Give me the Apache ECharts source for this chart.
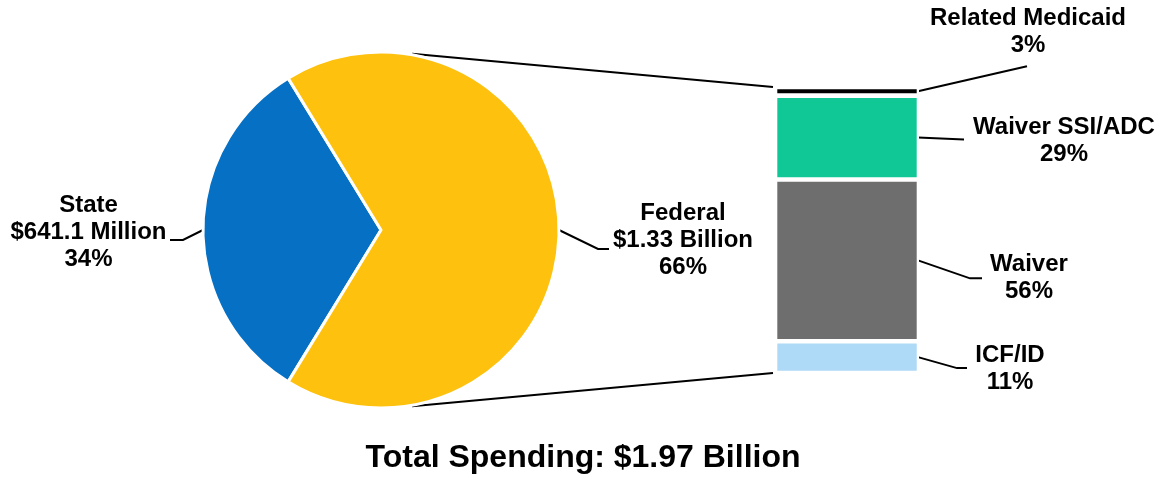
<!DOCTYPE html>
<html><head><meta charset="utf-8">
<script src="https://cdn.jsdelivr.net/npm/echarts@6/dist/echarts.min.js"></script>
<style>html,body{margin:0;padding:0;background:#fff}#c{width:1166px;height:479px}</style>
</head><body><div id="c"></div>
<script>
// ---------- data ----------
const pieNames = ['State', 'Federal'];
const pieValues = [641.1, 1330];              // $ millions
const pieAmounts = ['$641.1 Million', '$1.33 Billion'];
const piePercents = ['34%', '66%'];
const barCategory = ['Medicaid'];
const barNames = ['ICF/ID', 'Waiver', 'Waiver SSI/ADC', 'Related Medicaid'];
const barValues = [11, 56, 29, 3];            // percent of federal share
const barPercents = ['11%', '56%', '29%', '3%'];
const totalLabel = 'Total Spending: $1.97 Billion';

// ---------- style ----------
const FONT = '"Liberation Sans", Arial, Helvetica, sans-serif';
const pieColors = ['#0570C4', '#FDC10E'];
const barColors = ['#AED9F7', '#6E6E6E', '#10C896', '#000000'];
const PIE_C = [381, 230], PIE_R = 178;
const GRID = {left: 775, top: 87, width: 144, height: 286};
const CONNECT_ANGLE = 80;   // degrees, where the connector leaves the pie
const pieLabelOffsets = [
  {label: [-114.5, 2.5], line: [[-20, 10], [-33, 10]]},
  {label: [124, 10.5], line: [[39, 19], [50, 19]]}
];
const barLabelOffsets = [
  {label: [92, 12], line: [[39, 11], [49, 11]]},
  {label: [111, 18], line: [[52, 18], [64, 18]]},
  {label: [146, 3], line: [[46, 2]]},
  {label: [110, -59], line: [[109, -25]]}
];
const labelText = {fontFamily: FONT, fontSize: 24, fontWeight: 'bold', color: '#000', lineHeight: 27};

const pieTotal = pieValues.reduce((a, b) => a + b, 0);
const barTotal = barValues.reduce((a, b) => a + b, 0);
const startAngle = 180 + 180 * pieValues[0] / pieTotal;
function pieMidAngle(i) {
  let cum = 0;
  for (let k = 0; k < i; k++) cum += pieValues[k];
  return startAngle - (cum + pieValues[i] / 2) * 360 / pieTotal;
}
function pieEdge(angleDeg, r) {
  const a = angleDeg * Math.PI / 180;
  return [PIE_C[0] + r * Math.cos(a), PIE_C[1] - r * Math.sin(a)];
}

const chart = echarts.init(document.getElementById('c'), null, {renderer: 'canvas'});

const series = [{
  type: 'pie',
  center: PIE_C,
  radius: PIE_R,
  startAngle: startAngle,
  clockwise: true,
  avoidLabelOverlap: false,
  silent: true,
  data: pieNames.map((n, i) => ({name: n, value: pieValues[i], itemStyle: {color: pieColors[i]}})),
  itemStyle: {borderColor: '#fff', borderWidth: 3},
  label: Object.assign({
    show: true, position: 'outside', align: 'center',
    formatter: p => pieNames[p.dataIndex] + '\n' + pieAmounts[p.dataIndex] + '\n' + piePercents[p.dataIndex]
  }, labelText),
  labelLine: {show: true, lineStyle: {color: '#000', width: 2}},
  labelLayout: function (p) {
    const i = p.dataIndex;
    const a = pieEdge(pieMidAngle(i), PIE_R);
    const o = pieLabelOffsets[i];
    return {
      x: a[0] + o.label[0], y: a[1] + o.label[1], align: 'center', verticalAlign: 'middle',
      labelLinePoints: [a].concat(o.line.map(q => [a[0] + q[0], a[1] + q[1]]))
    };
  }
}];

barNames.forEach((n, i) => {
  series.push({
    type: 'bar', name: n, stack: 'fed', barWidth: GRID.width,
    data: [barValues[i]], silent: true,
    itemStyle: {color: barColors[i], borderColor: '#fff', borderWidth: 2.3},
    label: Object.assign({
      show: true, position: 'right', align: 'center',
      formatter: () => barNames[i] + '\n' + barPercents[i]
    }, labelText),
    labelLayout: function (p) {
      const r = p.rect;
      const ax = r.x + r.width - 1, ay = r.y + r.height / 2;
      const o = barLabelOffsets[i];
      return {x: ax + o.label[0], y: ay + o.label[1], align: 'center', verticalAlign: 'middle'};
    }
  });
});

chart.setOption({
  animation: false,
  backgroundColor: '#fff',
  title: {
    text: totalLabel, left: 'center', top: 442, padding: 0,
    textStyle: {fontFamily: FONT, fontSize: 32, fontWeight: 'bold', color: '#000'}
  },
  grid: GRID,
  xAxis: {type: 'category', data: barCategory, show: false},
  yAxis: {type: 'value', min: 0, max: barTotal, show: false},
  series: series
});

// ---------- connectors & bar leader lines (computed from axes) ----------
const graphics = [];
const xc = chart.convertToPixel({xAxisIndex: 0}, barCategory[0]);
const xLeft = xc - GRID.width / 2, xRight = xc + GRID.width / 2 - 1;
const yTop = chart.convertToPixel({yAxisIndex: 0}, barTotal);
const yBot = chart.convertToPixel({yAxisIndex: 0}, 0);
const lineStyle = {stroke: '#000', lineWidth: 2, fill: null};
[[CONNECT_ANGLE, yTop], [-CONNECT_ANGLE, yBot]].forEach(([ang, y]) => {
  const s = pieEdge(ang, PIE_R + 1);
  graphics.push({type: 'polyline', silent: true, shape: {points: [s, [xLeft - 2, y]]}, style: lineStyle});
});
let cum = 0;
barValues.forEach((v, i) => {
  const y0 = chart.convertToPixel({yAxisIndex: 0}, cum);
  const y1 = chart.convertToPixel({yAxisIndex: 0}, cum + v);
  cum += v;
  const a = [xRight, (y0 + y1) / 2];
  const pts = [a].concat(barLabelOffsets[i].line.map(q => [a[0] + q[0], a[1] + q[1]]));
  graphics.push({type: 'polyline', silent: true, shape: {points: pts}, style: {stroke: '#000', lineWidth: 2, fill: null}});
});
chart.setOption({graphic: graphics});
</script>
</body></html>
